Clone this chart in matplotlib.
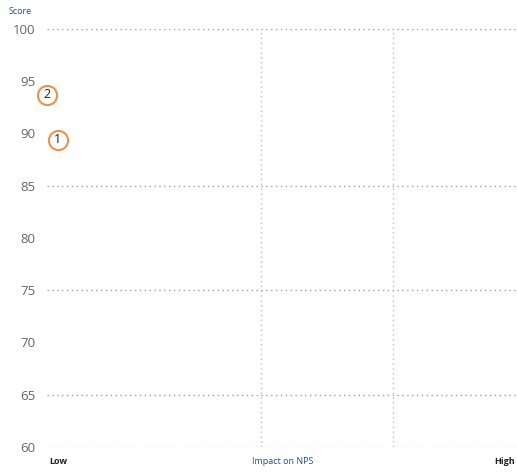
import matplotlib.pyplot as plt

# data
labels = ["1", "2"]
impact = [2.3, 0.0]
score = [89.4, 93.7]

y_ticks = [60, 65, 70, 75, 80, 85, 90, 95, 100]
h_grid = [60, 65, 75, 85, 100]
v_grid = [45.5, 73.6]

plt.rcParams["font.family"] = ["Open Sans", "DejaVu Sans"]

fig = plt.figure(figsize=(5.17, 4.72), dpi=100)
ax = fig.add_axes([47 / 517, 25 / 472, 470 / 517, 418 / 472])
ax.set_xlim(0, 100)
ax.set_ylim(60, 100)

for y in h_grid:
    ax.axhline(y, color="#a0a0a0", lw=1.0, ls=(0, (1, 2.5)), zorder=1)
for x in v_grid:
    ax.axvline(x, color="#bdbdbd", lw=1.0, ls=(0, (1, 2.5)), zorder=1)

for lab, x, y in zip(labels, impact, score):
    ax.scatter(x, y, s=190, facecolor="white", edgecolor="#f0904f",
               linewidth=1.5, zorder=3, clip_on=False)
    ax.text(x, y, lab, ha="center", va="center", fontsize=9,
            color="#222222", zorder=4, clip_on=False)

ax.set_yticks(y_ticks)
ax.set_yticklabels([str(t) for t in y_ticks], fontsize=9.5, color="#666666")
ax.tick_params(axis="y", length=0, pad=8.5)
ax.set_xticks([])
for s in ax.spines.values():
    s.set_visible(False)

fig.text(20 / 517, 1 - 12 / 472, "Score", fontsize=6.5, color="#1f4e9a",
         ha="center", va="center")
fig.text(58 / 517, 1 - 461 / 472, "Low", fontsize=6.5, color="#222222",
         ha="center", va="center", fontweight="bold")
fig.text(283 / 517, 1 - 461 / 472, "Impact on NPS", fontsize=6.5,
         color="#1f4e9a", ha="center", va="center")
fig.text(505 / 517, 1 - 461 / 472, "High", fontsize=6.5, color="#222222",
         ha="center", va="center", fontweight="bold")

fig.savefig("out.png", dpi=100)
